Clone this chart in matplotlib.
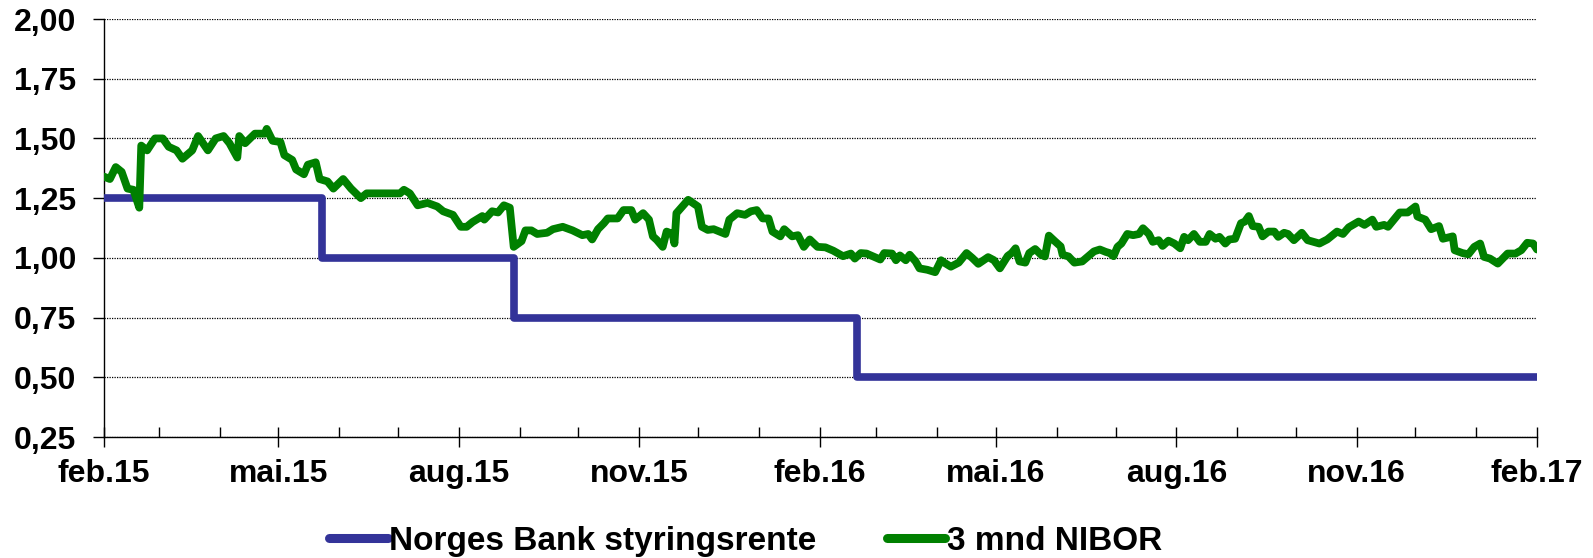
import matplotlib
matplotlib.use("Agg")
import matplotlib.pyplot as plt
import matplotlib.dates as mdates
from matplotlib.ticker import FuncFormatter, MultipleLocator
import pandas as pd

# ---------------- data ----------------
start_date = "2015-02-27"
end_date = "2017-02-27"

policy_dates = ["2015-02-27", "2015-06-18", "2015-09-24", "2016-03-17", "2017-02-27"]
policy_rate = [1.25, 1.00, 0.75, 0.50, 0.50]

# days after start_date, 3-month NIBOR (%)
nibor_day = [0, 3, 6, 9, 12, 15, 18, 19, 22, 26, 30, 33, 37, 40, 45, 48, 53, 57, 61, 64,
             68, 69, 72, 77, 82, 83, 86, 90, 92, 96, 98, 102, 104, 108, 110, 114, 117, 122,
             126, 131, 134, 151, 153, 156, 160, 165, 170, 173, 178, 182, 185, 188, 193, 194,
             198, 201, 204, 207, 209, 213, 215, 218, 221, 226, 229, 234, 239, 244, 247, 249,
             252, 255, 257, 262, 265, 269, 271, 275, 278, 280, 282, 285, 287, 290, 291, 292,
             295, 298, 303, 305, 308, 311, 317, 319, 323, 327, 330, 333, 336, 339, 341, 345,
             347, 351, 354, 357, 360, 364, 368, 372, 377, 381, 383, 386, 389, 396, 398, 402,
             404, 406, 409, 411, 414, 416, 420, 424, 427, 429, 432, 436, 440, 443, 446, 451,
             454, 457, 461, 463, 465, 467, 470, 472, 475, 478, 480, 482, 485, 488, 489, 492,
             495, 499, 502, 505, 508, 511, 513, 515, 517, 519, 522, 525, 528, 530, 533, 535,
             538, 540, 543, 546, 549, 551, 553, 556, 559, 562, 564, 567, 569, 572, 574, 577,
             580, 582, 584, 586, 589, 591, 594, 597, 599, 602, 604, 607, 611, 614, 620, 624,
             629, 632, 635, 640, 643, 647, 649, 653, 655, 659, 661, 665, 669, 670, 674, 677,
             681, 683, 688, 689, 693, 696, 699, 702, 704, 707, 711, 716, 720, 723, 726, 729,
             731]
nibor_value = [1.34, 1.33, 1.38, 1.36, 1.29, 1.285, 1.21, 1.47, 1.45, 1.50, 1.50, 1.465, 1.45,
               1.415, 1.45, 1.51, 1.45, 1.50, 1.51, 1.48, 1.42, 1.51, 1.48, 1.52, 1.52, 1.54,
               1.49, 1.485, 1.43, 1.41, 1.37, 1.35, 1.39, 1.40, 1.33, 1.32, 1.29, 1.33, 1.29,
               1.25, 1.27, 1.27, 1.285, 1.27, 1.22, 1.23, 1.215, 1.195, 1.18, 1.13, 1.13, 1.15,
               1.175, 1.16, 1.195, 1.19, 1.22, 1.21, 1.046, 1.07, 1.115, 1.115, 1.10, 1.105,
               1.12, 1.13, 1.115, 1.095, 1.10, 1.077, 1.12, 1.145, 1.165, 1.165, 1.20, 1.20,
               1.16, 1.187, 1.16, 1.09, 1.075, 1.046, 1.11, 1.10, 1.06, 1.187, 1.215, 1.243,
               1.215, 1.13, 1.117, 1.12, 1.10, 1.16, 1.187, 1.18, 1.195, 1.20, 1.165, 1.165,
               1.11, 1.09, 1.12, 1.09, 1.095, 1.046, 1.077, 1.046, 1.044, 1.03, 1.007, 1.018,
               0.997, 1.02, 1.018, 0.993, 1.02, 1.018, 0.99, 1.01, 0.99, 1.013, 0.985, 0.956,
               0.95, 0.94, 0.99, 0.978, 0.963, 0.98, 1.02, 0.999, 0.975, 1.003, 0.99, 0.956,
               1.008, 1.02, 1.04, 0.985, 0.98, 1.02, 1.037, 1.013, 1.006, 1.093, 1.07, 1.048,
               1.013, 1.006, 0.98, 0.985, 1.006, 1.027, 1.035, 1.025, 1.02, 1.007, 1.046, 1.06,
               1.10, 1.095, 1.10, 1.124, 1.10, 1.067, 1.074, 1.05, 1.072, 1.06, 1.04, 1.088,
               1.074, 1.10, 1.067, 1.067, 1.10, 1.08, 1.088, 1.06, 1.077, 1.08, 1.145, 1.152,
               1.175, 1.133, 1.13, 1.09, 1.11, 1.11, 1.088, 1.105, 1.10, 1.074, 1.105, 1.074,
               1.06, 1.077, 1.11, 1.10, 1.128, 1.152, 1.138, 1.16, 1.13, 1.138, 1.13, 1.17,
               1.19, 1.19, 1.215, 1.173, 1.16, 1.12, 1.133, 1.08, 1.09, 1.032, 1.02, 1.015,
               1.046, 1.06, 1.004, 0.997, 0.976, 1.018, 1.018, 1.032, 1.063, 1.06, 1.035]

series_labels = ["Norges Bank styringsrente", "3 mnd NIBOR"]
month_names = {1: "jan", 2: "feb", 3: "mar", 4: "apr", 5: "mai", 6: "jun",
               7: "jul", 8: "aug", 9: "sep", 10: "okt", 11: "nov", 12: "des"}

# ---------------- plot ----------------
FONT = "Liberation Sans"
plt.rcParams["font.family"] = [FONT, "DejaVu Sans"]

fig = plt.figure(figsize=(15.93, 5.58), dpi=100)
ax = fig.add_axes([104 / 1593, 1 - 437 / 558, (1537 - 104) / 1593, (437 - 19) / 558])

start = pd.Timestamp(start_date)
nibor_dates = start + pd.to_timedelta(nibor_day, unit="D")
pdates = pd.to_datetime(policy_dates)

blue = "#333399"
green = "#008000"
ax.plot(pdates, policy_rate, drawstyle="steps-post", color=blue, lw=5.5,
        solid_capstyle="round", solid_joinstyle="round", label=series_labels[0], zorder=3)
ax.plot(nibor_dates, nibor_value, color=green, lw=5.6,
        solid_capstyle="round", solid_joinstyle="round", label=series_labels[1], zorder=4)

ax.set_xlim(pd.Timestamp(start_date), pd.Timestamp(end_date))
ax.set_ylim(0.25, 2.00)

ax.yaxis.set_major_locator(MultipleLocator(0.25))
ax.yaxis.set_major_formatter(FuncFormatter(lambda v, p: f"{v:.2f}".replace(".", ",")))
ax.grid(axis="y", color="black", linestyle=(0, (1, 1)), linewidth=0.9)
ax.set_axisbelow(True)

ax.xaxis.set_major_locator(mdates.MonthLocator(bymonth=[2, 5, 8, 11], bymonthday=27))
ax.xaxis.set_minor_locator(mdates.MonthLocator(bymonthday=27))
ax.xaxis.set_major_formatter(FuncFormatter(
    lambda v, p: f"{month_names[mdates.num2date(v).month]}.{mdates.num2date(v).strftime('%y')}"))

for s in ["top", "right"]:
    ax.spines[s].set_visible(False)
for s in ["left", "bottom"]:
    ax.spines[s].set_color("black")
    ax.spines[s].set_linewidth(1.0)

ax.tick_params(axis="x", which="major", direction="inout", length=14, width=1.0,
               pad=9, labelsize=23)
ax.tick_params(axis="x", which="minor", direction="in", length=7, width=1.0)
ax.tick_params(axis="y", which="major", direction="out", length=8, width=1.0,
               pad=12, labelsize=23)
for lab in ax.get_xticklabels() + ax.get_yticklabels():
    lab.set_fontweight("bold")

leg = fig.legend(loc="center", bbox_to_anchor=(0.468, 0.03), ncol=2, frameon=False,
                 prop={"family": FONT, "weight": "bold", "size": 24},
                 handlelength=1.75, handletextpad=0.05, columnspacing=2.1)
for h in leg.get_lines():
    h.set_linewidth(6.5)

fig.savefig("out.png", dpi=100)
